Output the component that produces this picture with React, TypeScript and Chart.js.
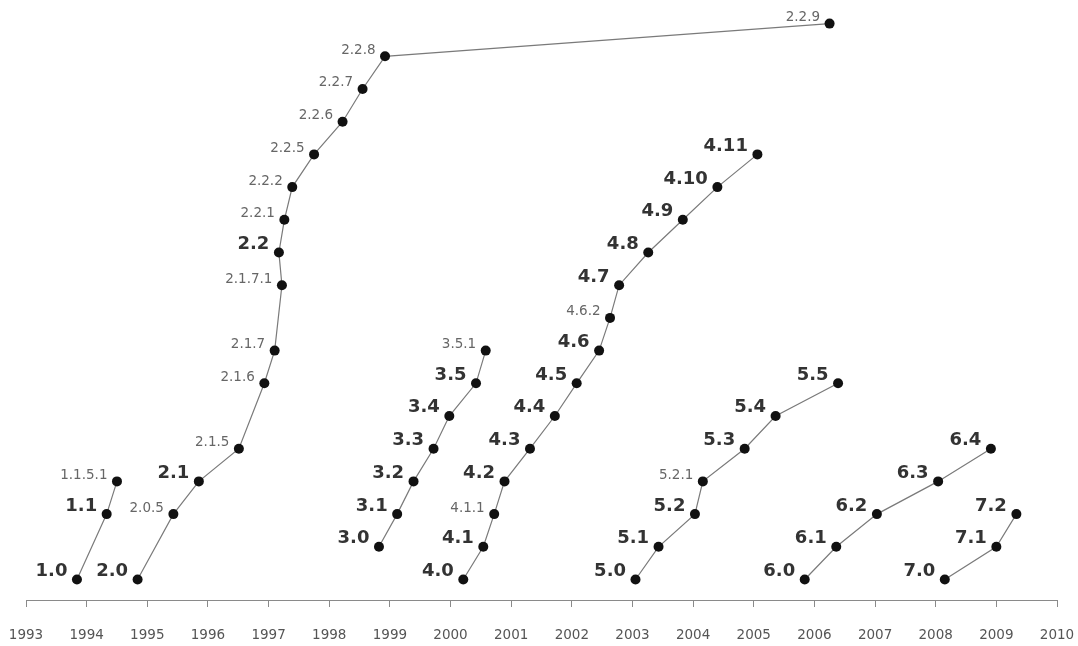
import React, { useEffect, useRef } from "react";
import { Chart, registerables } from "chart.js";

Chart.register(...registerables);

// Release names, release dates (decimal years) and row levels per branch
const s1Names = ["1.0", "1.1", "1.1.5.1"];
const s1Dates = [1993.84, 1994.33, 1994.5];
const s1Levels = [0, 2, 3];

const s2Names = ["2.0", "2.0.5", "2.1", "2.1.5", "2.1.6", "2.1.7", "2.1.7.1", "2.2", "2.2.1", "2.2.2", "2.2.5", "2.2.6", "2.2.7", "2.2.8", "2.2.9"];
const s2Dates = [1994.84, 1995.43, 1995.85, 1996.51, 1996.93, 1997.1, 1997.22, 1997.17, 1997.26, 1997.39, 1997.75, 1998.22, 1998.55, 1998.92, 2006.25];
const s2Levels = [0, 2, 3, 4, 6, 7, 9, 10, 11, 12, 13, 14, 15, 16, 17];

const s3Names = ["3.0", "3.1", "3.2", "3.3", "3.4", "3.5", "3.5.1"];
const s3Dates = [1998.82, 1999.12, 1999.39, 1999.72, 1999.98, 2000.42, 2000.58];
const s3Levels = [1, 2, 3, 4, 5, 6, 7];

const s4Names = ["4.0", "4.1", "4.1.1", "4.2", "4.3", "4.4", "4.5", "4.6", "4.6.2", "4.7", "4.8", "4.9", "4.10", "4.11"];
const s4Dates = [2000.21, 2000.54, 2000.72, 2000.89, 2001.31, 2001.72, 2002.08, 2002.45, 2002.63, 2002.78, 2003.26, 2003.83, 2004.4, 2005.06];
const s4Levels = [0, 1, 2, 3, 4, 5, 6, 7, 8, 9, 10, 11, 12, 13];

const s5Names = ["5.0", "5.1", "5.2", "5.2.1", "5.3", "5.4", "5.5"];
const s5Dates = [2003.05, 2003.43, 2004.03, 2004.16, 2004.85, 2005.36, 2006.39];
const s5Levels = [0, 1, 2, 3, 4, 5, 6];

const s6Names = ["6.0", "6.1", "6.2", "6.3", "6.4"];
const s6Dates = [2005.84, 2006.36, 2007.03, 2008.04, 2008.91];
const s6Levels = [0, 1, 2, 3, 4];

const s7Names = ["7.0", "7.1", "7.2"];
const s7Dates = [2008.15, 2009.0, 2009.33];
const s7Levels = [0, 1, 2];

const yearMin = 1993;
const yearMax = 2010;

const seriesNames = [s1Names, s2Names, s3Names, s4Names, s5Names, s6Names, s7Names];
const seriesDates = [s1Dates, s2Dates, s3Dates, s4Dates, s5Dates, s6Dates, s7Dates];
const seriesLevels = [s1Levels, s2Levels, s3Levels, s4Levels, s5Levels, s6Levels, s7Levels];

const FONT = '"DejaVu Sans", "Liberation Sans", sans-serif';

const labelPlugin = {
  id: "versionLabels",
  afterDatasetsDraw(chart: any) {
    const ctx = chart.ctx;
    ctx.save();
    ctx.textAlign = "right";
    ctx.textBaseline = "alphabetic";
    chart.data.datasets.forEach((_ds: any, i: number) => {
      const meta = chart.getDatasetMeta(i);
      const names = seriesNames[i];
      meta.data.forEach((pt: any, j: number) => {
        const name = names[j];
        const major = name.split(".").length === 2;
        ctx.font = major ? `bold 18px ${FONT}` : `13.5px ${FONT}`;
        ctx.fillStyle = major ? "#333333" : "#666666";
        ctx.fillText(name, pt.x - 9.5, pt.y - (major ? 3.5 : 2.5));
      });
    });
    ctx.restore();
  },
};

export default function App() {
  const canvasRef = useRef<HTMLCanvasElement | null>(null);

  useEffect(() => {
    if (!canvasRef.current) return;
    const datasets = seriesNames.map((_n, i) => ({
      label: `FreeBSD ${i + 1}.x`,
      data: seriesDates[i].map((d, j) => ({ x: d, y: seriesLevels[i][j] })),
      borderColor: "#7a7a7a",
      borderWidth: 1.2,
      pointRadius: 5,
      pointHoverRadius: 5,
      pointBackgroundColor: "#111111",
      pointBorderColor: "#111111",
      pointBorderWidth: 0,
      tension: 0,
      fill: false,
    }));

    const chart = new Chart(canvasRef.current, {
      type: "line",
      data: { datasets },
      options: {
        animation: false,
        responsive: false,
        layout: { padding: { left: 26, right: 21, top: 8, bottom: 0 } },
        plugins: {
          legend: { display: false },
          tooltip: { enabled: false },
        },
        scales: {
          x: {
            type: "linear",
            min: yearMin,
            max: yearMax,
            afterFit: (scale: any) => {
              scale.height = 46;
              scale.paddingLeft = 0;
              scale.paddingRight = 0;
            },
            grid: {
              drawOnChartArea: false,
              drawTicks: true,
              tickLength: 7,
              color: "#8a8a8a",
              lineWidth: 1,
            },
            border: { display: true, color: "#8a8a8a", width: 1 },
            ticks: {
              stepSize: 1,
              autoSkip: false,
              maxRotation: 0,
              padding: 20,
              color: "#555555",
              font: { family: FONT, size: 13.5 },
              callback: (v: any) => String(v),
            },
          },
          y: {
            type: "linear",
            display: false,
            min: -0.627,
            max: 17.477,
          },
        },
      },
      plugins: [labelPlugin],
    });

    return () => chart.destroy();
  }, []);

  return (
    <div style={{ position: "absolute", left: 0, top: 0, width: 1078, height: 646, background: "#ffffff" }}>
      <canvas ref={canvasRef} width={1078} height={646} style={{ display: "block" }} />
    </div>
  );
}
